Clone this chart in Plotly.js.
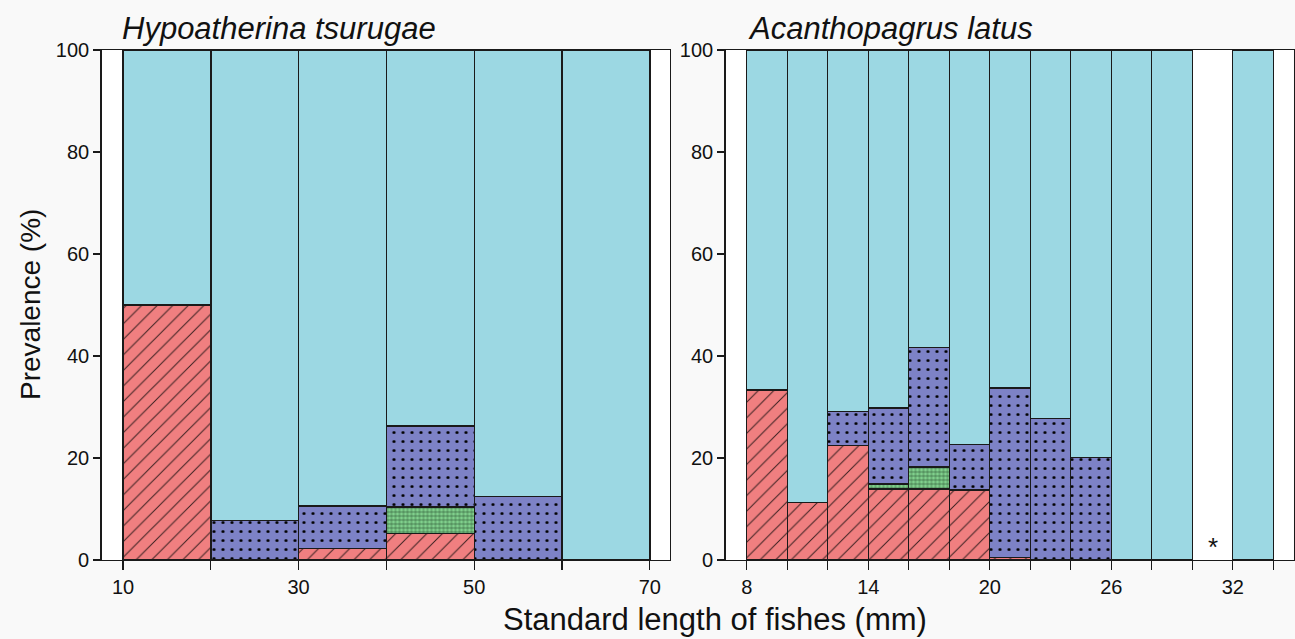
<!DOCTYPE html>
<html>
<head>
<meta charset="utf-8">
<script src="https://cdn.plot.ly/plotly-3.0.1.min.js"></script>
<style>html,body{margin:0;padding:0;background:#f9f9f9;}#chart{width:1295px;height:639px;}</style>
</head>
<body>
<div id="chart"></div>
<script>
// ---- Data: Hypoatherina tsurugae (bins of 10 mm) ----
const hypoBinStart = [10, 20, 30, 40, 50, 60];
const hypoBinWidth = 10;
const hypoRed   = [50, 0, 2.3, 5.2, 0, 0];
const hypoGreen = [0, 0, 0, 5.2, 0, 0];
const hypoBlue  = [0, 7.7, 8.3, 15.9, 12.5, 0];
const hypoCyan  = [50, 92.3, 89.4, 73.7, 87.5, 100];

// ---- Data: Acanthopagrus latus (bins of 2 mm) ----
const acanBinStart = [8, 10, 12, 14, 16, 18, 20, 22, 24, 26, 28, 30, 32];
const acanBinWidth = 2;
const acanRed   = [33.3, 11.3, 22.5, 13.9, 13.9, 13.7, 0.5, 0, 0, 0, 0, 0, 0];
const acanGreen = [0, 0, 0, 1.0, 4.3, 0, 0, 0, 0, 0, 0, 0, 0];
const acanBlue  = [0, 0, 6.6, 14.9, 23.5, 9.0, 33.2, 27.8, 20.1, 0, 0, 0, 0];
const acanCyan  = [66.7, 88.7, 70.9, 70.2, 58.3, 77.3, 66.3, 72.2, 79.9, 100, 100, 0, 100];

const hypoTicks = [10, 20, 30, 40, 50, 60, 70];
const hypoTickLabels = ["10", "", "30", "", "50", "", "70"];
const acanTicks = [8, 10, 12, 14, 16, 18, 20, 22, 24, 26, 28, 30, 32, 34];
const acanTickLabels = ["8", "", "", "14", "", "", "20", "", "", "26", "", "", "32", ""];
const yTicks = [0, 20, 40, 60, 80, 100];

const COLORS = {red: "#f07f80", green: "#80d08c", blue: "#7d82c6", cyan: "#9cd8e3"};
const LINE = {color: "#1a1a1a", width: 1.4};
const PATTERNS = {
  red:   {shape: "/", size: 11, solidity: 0.09, fgcolor: "#3a2020"},
  green: {shape: "+", size: 4, solidity: 0.22, fgcolor: "#1f3a22"},
  blue:  {shape: ".", size: 9, solidity: 0.09, fgcolor: "#000000"},
  cyan:  null
};

function nz(a){ return a.map(v => v === 0 ? null : v); }

function makeTraces(starts, w, series, xa, ya){
  const xs = starts.map(s => s + w / 2);
  return series.map(([key, vals]) => {
    const m = {color: COLORS[key], line: LINE};
    if (PATTERNS[key]) m.pattern = Object.assign({bgcolor: COLORS[key], fillmode: "replace"}, PATTERNS[key]);
    return {
      type: "bar", x: xs, y: nz(vals), width: w, xaxis: xa, yaxis: ya,
      marker: m, showlegend: false, hoverinfo: "skip"
    };
  });
}

const traces = [].concat(
  makeTraces(hypoBinStart, hypoBinWidth, [["red", hypoRed], ["green", hypoGreen], ["blue", hypoBlue], ["cyan", hypoCyan]], "x", "y"),
  makeTraces(acanBinStart, acanBinWidth, [["red", acanRed], ["green", acanGreen], ["blue", acanBlue], ["cyan", acanCyan]], "x2", "y2")
);

const FAM = "Liberation Sans, Arial, sans-serif";
const tickFont = {family: FAM, size: 20, color: "#111"};
const axisCommon = {
  showline: true, mirror: true, linecolor: "#1a1a1a", linewidth: 1.3,
  showgrid: false, zeroline: false, ticks: "outside", tickcolor: "#1a1a1a", tickwidth: 1.3,
  tickfont: tickFont, fixedrange: true
};

const W = 1295;
const layout = {
  width: 1295, height: 639,
  margin: {l: 0, r: 0, t: 50, b: 79},
  paper_bgcolor: "#f9f9f9", plot_bgcolor: "#ffffff",
  barmode: "stack", bargap: 0,
  font: {family: FAM, color: "#111"},
  xaxis: Object.assign({}, axisCommon, {domain: [101.5 / W, 670 / W], range: [7.55, 72.3],
    tickmode: "array", tickvals: hypoTicks, ticktext: hypoTickLabels, ticklen: 9, anchor: "y"}),
  yaxis: Object.assign({}, axisCommon, {domain: [0, 1], range: [0, 100],
    tickmode: "array", tickvals: yTicks, ticklen: 7, anchor: "x"}),
  xaxis2: Object.assign({}, axisCommon, {domain: [725.5 / W, 1293.5 / W], range: [6.95, 35.0],
    tickmode: "array", tickvals: acanTicks, ticktext: acanTickLabels, ticklen: 9, anchor: "y2"}),
  yaxis2: Object.assign({}, axisCommon, {domain: [0, 1], range: [0, 100],
    tickmode: "array", tickvals: yTicks, ticklen: 7, anchor: "x2"}),
  annotations: [
    {text: "Hypoatherina tsurugae", xref: "x", yref: "paper", x: 10, y: 1, xanchor: "left", yanchor: "bottom",
     xshift: -3, yshift: 2, showarrow: false, font: {size: 31, style: "italic", family: FAM, color: "#111"}},
    {text: "Acanthopagrus latus", xref: "x2", yref: "paper", x: 8, y: 1, xanchor: "left", yanchor: "bottom",
     xshift: -1, yshift: 2, showarrow: false, font: {size: 31, style: "italic", family: FAM, color: "#111"}},
    {text: "*", xref: "x2", yref: "y2", x: 31, y: 2.5, showarrow: false,
     font: {size: 26, color: "#111"}},
    {text: "Standard length of fishes (mm)", xref: "paper", yref: "paper", x: 715 / W, y: -0.117,
     xanchor: "center", yanchor: "middle", showarrow: false, font: {size: 31, color: "#111"}},
    {text: "Prevalence (%)", xref: "paper", yref: "paper", x: 30 / W, y: 0.5, xanchor: "center", yanchor: "middle",
     textangle: -90, showarrow: false, font: {size: 28, color: "#111"}}
  ]
};

Plotly.newPlot("chart", traces, layout, {displayModeBar: false, staticPlot: true});
</script>
</body>
</html>
